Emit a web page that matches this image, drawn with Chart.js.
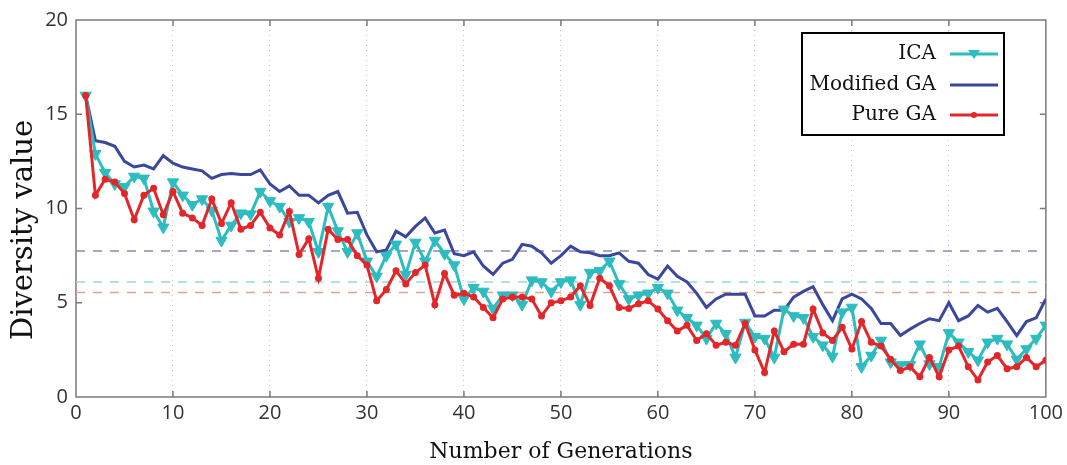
<!DOCTYPE html>
<html>
<head>
<meta charset="utf-8">
<script src="https://cdn.jsdelivr.net/npm/chart.js@4.4.1/dist/chart.umd.js"></script>
<style>
  html, body { margin: 0; padding: 0; background: #fff; }
  #wrap { width: 1067px; height: 465px; }
</style>
</head>
<body>
<div id="wrap"><canvas id="diversityChart" width="1067" height="465"></canvas></div>
<script>
// generations 1..100
const ica = [
  16.0, 12.9, 11.9, 11.3, 11.15, 11.7, 11.6, 9.85, 9.0, 11.4,
  10.7, 10.2, 10.5, 9.9, 8.3, 9.1, 9.75, 9.7, 10.9, 10.4,
  10.1, 9.3, 9.5, 9.3, 7.7, 10.1, 8.8, 7.7, 8.7, 7.2,
  6.4, 7.5, 8.1, 6.5, 8.2, 7.2, 8.3, 7.6, 7.0, 5.2,
  5.8, 5.6, 4.7, 5.4, 5.4, 4.9, 6.2, 6.1, 5.6, 6.1,
  6.2, 4.9, 6.6, 6.7, 7.2, 6.0, 5.2, 5.4, 5.5, 5.8,
  5.5, 4.6, 4.2, 3.8, 3.1, 3.9, 3.35, 2.1, 3.95, 3.2,
  3.1, 2.1, 4.65, 4.3, 4.2, 3.2, 2.75, 2.15, 4.5, 4.75,
  1.6, 2.2, 3.0, 1.85, 1.7, 1.7, 2.8, 1.75, 1.6, 3.4,
  2.9, 2.4, 1.95, 2.9, 3.1, 2.8, 2.0, 2.55, 3.1, 3.8
]
const modifiedGa = [
  16.0, 13.6, 13.5, 13.3, 12.5, 12.2, 12.3, 12.1, 12.8, 12.4,
  12.2, 12.1, 12.0, 11.6, 11.8, 11.85, 11.8, 11.8, 12.05, 11.3,
  10.9, 11.2, 10.7, 10.7, 10.3, 10.7, 10.9, 9.75, 9.8, 8.6,
  7.7, 7.8, 8.8, 8.5, 9.05, 9.5, 8.7, 8.85, 7.6, 7.5,
  7.7, 6.95, 6.5, 7.1, 7.3, 8.1, 8.0, 7.65, 7.1, 7.5,
  8.0, 7.7, 7.65, 7.5, 7.5, 7.65, 7.2, 7.1, 6.5, 6.25,
  6.95, 6.4, 6.1, 5.5, 4.75, 5.2, 5.45, 5.45, 5.45, 4.3,
  4.3, 4.6, 4.6, 5.3, 5.6, 5.85, 4.9, 4.05, 5.2, 5.45,
  5.2, 4.7, 3.9, 3.9, 3.26, 3.6, 3.9, 4.15, 4.05, 5.0,
  4.05, 4.3, 4.85, 4.5, 4.7, 4.0, 3.26, 4.0, 4.2, 5.2
]
const pureGa = [
  16.0, 10.7, 11.55, 11.4, 10.8, 9.4, 10.7, 11.07, 9.67, 10.9,
  9.75, 9.5, 9.1, 10.5, 9.2, 10.3, 8.9, 9.1, 9.8, 8.96,
  8.6, 9.84, 7.56, 8.4, 6.3, 8.9, 8.35, 8.35, 7.5, 7.0,
  5.1, 5.7, 6.7, 6.0, 6.6, 7.0, 4.9, 6.55, 5.4, 5.5,
  5.3, 4.75, 4.2, 5.2, 5.3, 5.3, 5.2, 4.3, 5.0, 5.1,
  5.3, 5.9, 4.85, 6.3, 5.9, 4.75, 4.7, 4.95, 5.1, 4.67,
  4.05, 3.5, 3.8, 3.0, 3.35, 2.75, 2.9, 2.75, 3.9, 2.5,
  1.3, 3.5, 2.4, 2.8, 2.8, 4.67, 3.4, 3.0, 3.7, 2.55,
  4.0, 2.9, 2.7, 2.0, 1.4, 1.6, 1.07, 2.1, 1.07, 2.5,
  2.7, 1.6, 0.9, 1.86, 2.2, 1.5, 1.6, 2.1, 1.6, 1.95
]
// horizontal dashed reference levels
const refLevels = [7.75, 6.1, 5.55]
const refColors = ["#8c88b4", "#9ad6da", "#e3a095"]

const xTicks = [0, 10, 20, 30, 40, 50, 60, 70, 80, 90, 100]
const yTicks = [0, 5, 10, 15, 20]

const seriesNames = ["ICA", "Modified GA", "Pure GA"]
const yTitle = "Diversity value"
const cyan = "#2dbcbf"
const blue = "#3a479c"
const red = "#e3262a"

const toPoints = (values) => values.map((y, i) => ({ x: i + 1, y }))

const refDatasets = refLevels.map((level, i) => ({
  data: [{ x: 0, y: level }, { x: 100, y: level }],
  borderColor: refColors[i],
  borderWidth: 1.5,
  borderDash: [9, 8],
  pointRadius: 0,
  order: 10
}))

const frameAndLegend = {
  id: "frameAndLegend",
  beforeDatasetsDraw(chart) {
    const { ctx, chartArea: a, scales } = chart
    ctx.save()
    ctx.strokeStyle = "#7a7a7a"
    ctx.lineWidth = 1.5
    ctx.strokeRect(a.left, a.top, a.right - a.left, a.bottom - a.top)
    ctx.beginPath()
    xTicks.slice(1, -1).forEach((t) => {
      const px = scales.x.getPixelForValue(t)
      ctx.moveTo(px, a.bottom); ctx.lineTo(px, a.bottom - 6)
      ctx.moveTo(px, a.top); ctx.lineTo(px, a.top + 6)
    })
    yTicks.slice(1, -1).forEach((t) => {
      const py = scales.y.getPixelForValue(t)
      ctx.moveTo(a.left, py); ctx.lineTo(a.left + 6, py)
      ctx.moveTo(a.right, py); ctx.lineTo(a.right - 6, py)
    })
    ctx.stroke()

    // y axis title, sits a bit below the plot centre in the original
    ctx.translate(24, 230)
    ctx.rotate(-Math.PI / 2)
    ctx.font = "29px 'DejaVu Serif'"
    ctx.fillStyle = "#111"
    ctx.textAlign = "center"
    ctx.textBaseline = "middle"
    ctx.fillText(yTitle, 0, 0)
    ctx.restore()
  },
  afterDatasetsDraw(chart) {
    const { ctx } = chart
    ctx.save()
    ctx.fillStyle = "#fff"
    ctx.fillRect(802, 33, 202, 102)
    ctx.strokeStyle = "#000"
    ctx.lineWidth = 2
    ctx.strokeRect(802, 33, 202, 102)
    ctx.font = "20px 'DejaVu Serif'"
    ctx.fillStyle = "#111"
    ctx.textAlign = "right"
    ctx.textBaseline = "middle"
    const rows = [54, 85, 115]
    const colors = [cyan, blue, red]
    rows.forEach((y, i) => {
      ctx.fillText(seriesNames[i], 936, y)
      ctx.strokeStyle = colors[i]
      ctx.lineWidth = 3
      ctx.beginPath()
      ctx.moveTo(950, y); ctx.lineTo(998, y)
      ctx.stroke()
    })
    ctx.fillStyle = cyan
    ctx.beginPath()
    ctx.moveTo(968, rows[0] - 4); ctx.lineTo(980, rows[0] - 4); ctx.lineTo(974, rows[0] + 5)
    ctx.closePath(); ctx.fill()
    ctx.fillStyle = red
    ctx.beginPath()
    ctx.arc(974, rows[2], 3, 0, Math.PI * 2)
    ctx.fill()
    ctx.restore()
  }
}

new Chart(document.getElementById("diversityChart"), {
  type: "line",
  data: {
    datasets: [
      ...refDatasets,
      {
        label: seriesNames[1],
        data: toPoints(modifiedGa),
        borderColor: blue,
        borderWidth: 3,
        pointRadius: 0,
        order: 3
      },
      {
        label: seriesNames[0],
        data: toPoints(ica),
        borderColor: cyan,
        backgroundColor: cyan,
        borderWidth: 3,
        pointStyle: "triangle",
        rotation: 180,
        pointRadius: 6.5,
        pointBorderWidth: 1,
        order: 2
      },
      {
        label: seriesNames[2],
        data: toPoints(pureGa),
        borderColor: red,
        backgroundColor: red,
        borderWidth: 3,
        pointRadius: 3.5,
        pointBorderWidth: 0,
        order: 1
      }
    ]
  },
  options: {
    responsive: false,
    animation: false,
    layout: { padding: { top: 16, right: 19, left: 0, bottom: 0 } },
    plugins: { legend: { display: false }, tooltip: { enabled: false } },
    scales: {
      x: {
        type: "linear",
        min: 0,
        max: 100,
        afterBuildTicks: (scale) => { scale.ticks = xTicks.map((value) => ({ value })) },
        afterFit: (scale) => { scale.height = 68 },
        ticks: { font: { family: "'Open Sans'", size: 20 }, color: "#333", padding: 4, maxRotation: 0 },
        grid: {
          drawTicks: false,
          color: (c) => (c.tick && (c.tick.value === 0 || c.tick.value === 100) ? "rgba(0,0,0,0)" : "#c4c4c4"),
          lineWidth: 1
        },
        border: { display: false, dash: [1, 4] },
        title: {
          display: true,
          text: "Number of Generations",
          font: { family: "'DejaVu Serif'", size: 22 },
          color: "#111",
          padding: { top: 2, bottom: 0 }
        }
      },
      y: {
        min: 0,
        max: 20,
        afterBuildTicks: (scale) => { scale.ticks = yTicks.map((value) => ({ value })) },
        afterFit: (scale) => { scale.width = 76 },
        ticks: { font: { family: "'Open Sans'", size: 20 }, color: "#333", padding: 8 },
        grid: { display: false, drawTicks: false },
        border: { display: false }
      }
    }
  },
  plugins: [frameAndLegend]
})
</script>
</body>
</html>
